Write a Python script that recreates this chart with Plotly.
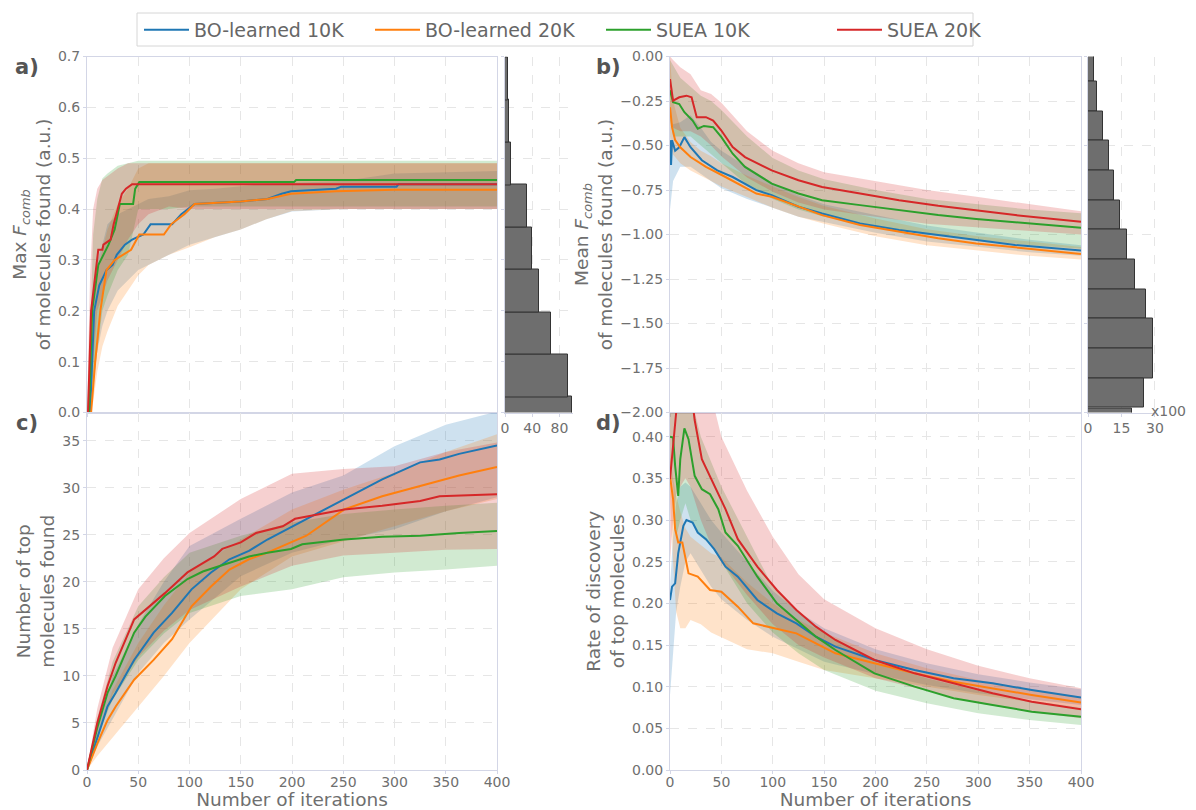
import plotly.graph_objects as go

# ---------------- data ----------------
series_names = ["BO-learned 10K", "BO-learned 20K", "SUEA 10K", "SUEA 20K"]
series_colors = ["#1f77b4", "#ff7f0e", "#2ca02c", "#d62728"]
series_fills = ["rgba(31,119,180,0.22)", "rgba(255,127,14,0.22)", "rgba(44,160,44,0.22)", "rgba(214,39,40,0.22)"]

# Panel a) Max F_comb
blue_a_x = [0, 3, 7, 12, 19, 25, 29, 37, 44, 55, 62, 83, 92, 105, 150, 176, 190, 199, 243, 248, 302, 304, 400]
blue_a_y = [0, 0, 0.20, 0.25, 0.28, 0.29, 0.31, 0.33, 0.34, 0.35, 0.37, 0.37, 0.39, 0.41, 0.415, 0.42, 0.43, 0.435, 0.44, 0.444, 0.444, 0.449, 0.449]
orange_a_x = [0, 4, 8, 13, 19, 27, 35, 43, 51, 75, 82, 95, 105, 150, 176, 199, 243, 300, 400]
orange_a_y = [0, 0, 0.1, 0.2, 0.28, 0.30, 0.31, 0.32, 0.35, 0.35, 0.37, 0.39, 0.41, 0.415, 0.42, 0.43, 0.435, 0.438, 0.438]
green_a_x = [0, 2, 5, 11, 16, 21, 27, 32, 45, 47, 51, 202, 204, 400]
green_a_y = [0, 0, 0.2, 0.29, 0.31, 0.33, 0.36, 0.41, 0.41, 0.44, 0.453, 0.453, 0.457, 0.457]
red_a_x = [0, 1, 4, 11, 15, 16, 23, 26, 30, 34, 38, 44, 400]
red_a_y = [0, 0, 0.2, 0.32, 0.32, 0.33, 0.34, 0.37, 0.40, 0.43, 0.44, 0.449, 0.449]

band_a_x = [0, 3, 6, 10, 15, 20, 30, 40, 50, 60, 80, 100, 125, 150, 175, 200, 250, 300, 400]
blue_a_up = [0, 0.10, 0.25, 0.30, 0.33, 0.37, 0.39, 0.40, 0.41, 0.42, 0.425, 0.437, 0.44, 0.445, 0.45, 0.452, 0.455, 0.47, 0.475]
blue_a_lo = [0, 0, 0.05, 0.12, 0.17, 0.20, 0.24, 0.26, 0.28, 0.29, 0.31, 0.33, 0.345, 0.36, 0.38, 0.395, 0.40, 0.40, 0.40]
orange_a_up = [0, 0.05, 0.18, 0.28, 0.32, 0.36, 0.41, 0.44, 0.48, 0.49, 0.49, 0.49, 0.49, 0.49, 0.49, 0.49, 0.49, 0.49, 0.49]
orange_a_lo = [0, 0, 0.02, 0.08, 0.13, 0.16, 0.21, 0.24, 0.27, 0.29, 0.31, 0.325, 0.345, 0.36, 0.38, 0.396, 0.40, 0.40, 0.40]
green_a_up = [0, 0.15, 0.35, 0.42, 0.46, 0.47, 0.485, 0.49, 0.495, 0.495, 0.495, 0.495, 0.495, 0.495, 0.495, 0.495, 0.495, 0.495, 0.495]
green_a_lo = [0, 0, 0.05, 0.12, 0.20, 0.23, 0.28, 0.31, 0.40, 0.40, 0.40, 0.405, 0.405, 0.405, 0.405, 0.405, 0.405, 0.405, 0.405]
red_a_up = [0, 0.27, 0.40, 0.44, 0.457, 0.465, 0.48, 0.49, 0.49, 0.49, 0.49, 0.49, 0.49, 0.49, 0.49, 0.49, 0.49, 0.49, 0.49]
red_a_lo = [0, 0, 0.10, 0.20, 0.23, 0.26, 0.30, 0.34, 0.37, 0.39, 0.405, 0.40, 0.40, 0.40, 0.40, 0.40, 0.40, 0.40, 0.40]

hist_a_centers = [-0.011, 0.072, 0.155, 0.239, 0.322, 0.406, 0.489, 0.573, 0.656]
hist_a_counts = [99, 93, 67, 50, 39, 33, 9.4, 5.6, 4.4]
hist_a_binwidth = 0.0835

# Panel b) Mean F_comb
blue_b_x = [0, 1, 2, 5, 9, 14, 20, 31, 46, 61, 84, 99, 125, 148, 185, 223, 261, 298, 336, 400]
blue_b_y = [-0.47, -0.61, -0.47, -0.53, -0.51, -0.453, -0.51, -0.583, -0.64, -0.677, -0.751, -0.779, -0.844, -0.882, -0.938, -0.975, -1.003, -1.031, -1.059, -1.09]
orange_b_x = [0, 2, 5, 10, 20, 35, 54, 73, 84, 99, 125, 148, 185, 223, 261, 298, 336, 400]
orange_b_y = [-0.285, -0.397, -0.47, -0.51, -0.565, -0.62, -0.677, -0.733, -0.77, -0.788, -0.844, -0.891, -0.947, -0.984, -1.021, -1.05, -1.072, -1.109]
green_b_x = [0, 3, 9, 14, 22, 27, 33, 42, 50, 61, 73, 99, 125, 148, 185, 223, 261, 298, 336, 400]
green_b_y = [-0.19, -0.257, -0.267, -0.313, -0.36, -0.406, -0.39, -0.397, -0.453, -0.546, -0.62, -0.714, -0.77, -0.807, -0.835, -0.863, -0.891, -0.913, -0.932, -0.962]
red_b_x = [0, 3, 9, 16, 21, 26, 35, 42, 50, 61, 73, 99, 125, 148, 185, 223, 261, 298, 336, 400]
red_b_y = [-0.127, -0.248, -0.229, -0.22, -0.229, -0.341, -0.341, -0.36, -0.416, -0.509, -0.565, -0.64, -0.695, -0.733, -0.77, -0.807, -0.839, -0.863, -0.891, -0.928]

band_b_x = [0, 3, 10, 20, 30, 40, 50, 75, 100, 125, 150, 200, 250, 300, 350, 400]
blue_b_up = [-0.35, -0.38, -0.37, -0.33, -0.40, -0.48, -0.53, -0.62, -0.71, -0.78, -0.83, -0.89, -0.95, -0.99, -1.03, -1.06]
blue_b_lo = [-0.86, -0.70, -0.62, -0.62, -0.66, -0.70, -0.74, -0.80, -0.85, -0.90, -0.93, -0.99, -1.04, -1.07, -1.10, -1.12]
orange_b_up = [0.0, -0.25, -0.40, -0.48, -0.53, -0.56, -0.60, -0.67, -0.73, -0.79, -0.84, -0.91, -0.97, -1.01, -1.04, -1.07]
orange_b_lo = [-0.45, -0.55, -0.60, -0.64, -0.67, -0.70, -0.73, -0.79, -0.85, -0.90, -0.94, -1.01, -1.06, -1.09, -1.12, -1.14]
green_b_up = [-0.02, -0.05, -0.12, -0.17, -0.22, -0.25, -0.30, -0.45, -0.57, -0.64, -0.69, -0.75, -0.80, -0.83, -0.86, -0.88]
green_b_lo = [-0.35, -0.45, -0.45, -0.45, -0.50, -0.55, -0.60, -0.72, -0.80, -0.86, -0.90, -0.95, -1.00, -1.03, -1.06, -1.08]
red_b_up = [0.0, -0.02, -0.06, -0.10, -0.19, -0.21, -0.26, -0.42, -0.53, -0.60, -0.65, -0.70, -0.75, -0.79, -0.83, -0.87]
red_b_lo = [-0.30, -0.40, -0.42, -0.42, -0.45, -0.50, -0.56, -0.68, -0.76, -0.82, -0.86, -0.90, -0.94, -0.96, -0.98, -1.00]

hist_b_centers = [-0.057, -0.224, -0.390, -0.557, -0.724, -0.890, -1.057, -1.224, -1.390, -1.557, -1.724, -1.890, -2.060]
hist_b_counts = [2.7, 4.0, 6.6, 9.4, 11.8, 14.2, 17.4, 21.1, 26.1, 29.3, 29.0, 25.0, 19.6]
hist_b_binwidth = 0.1668

# Panel c) Number of top molecules found
blue_c_x = [0, 10, 20, 28, 46, 65, 83, 102, 121, 139, 158, 176, 214, 251, 288, 325, 344, 363, 400]
blue_c_y = [0, 3.5, 6.75, 8.2, 11.7, 14.6, 16.7, 19.2, 21, 22.4, 23.3, 24.5, 26.7, 28.8, 30.9, 32.7, 33, 33.6, 34.5]
orange_c_x = [0, 10, 20, 28, 46, 65, 83, 102, 121, 139, 158, 176, 214, 251, 288, 325, 363, 400]
orange_c_y = [0, 2.8, 5.3, 6.75, 9.6, 11.7, 13.9, 17.4, 19.5, 21.3, 22.4, 23.1, 24.9, 27.7, 29.1, 30.2, 31.3, 32.2]
green_c_x = [0, 10, 20, 28, 46, 57, 76, 98, 113, 139, 158, 176, 199, 210, 251, 288, 325, 363, 400]
green_c_y = [0, 4.5, 8.2, 10, 14.6, 16.3, 18.5, 20.3, 21.1, 22, 22.7, 23.1, 23.5, 24, 24.5, 24.8, 24.9, 25.2, 25.4]
red_c_x = [0, 10, 20, 28, 46, 65, 76, 98, 124, 132, 150, 165, 191, 203, 251, 288, 325, 344, 400]
red_c_y = [0, 5, 8.9, 11.4, 16, 17.8, 18.8, 21, 22.7, 23.5, 24.2, 25.2, 25.9, 26.7, 27.7, 28.1, 28.6, 29.1, 29.3]

band_c_x = [0, 10, 25, 50, 75, 100, 150, 200, 250, 300, 350, 400]
blue_c_up = [0, 4.5, 10, 15.5, 20, 23.8, 26.7, 29.5, 31.3, 34.4, 36.7, 38.1]
blue_c_lo = [0, 2.5, 5.5, 10.3, 13.5, 16, 20.6, 23.1, 24.5, 25.6, 27.5, 29]
orange_c_up = [0, 3.8, 8.5, 13.5, 17.5, 21, 24.5, 27.7, 29.8, 31.6, 33.8, 35.7]
orange_c_lo = [0, 1.5, 3.5, 6.75, 10, 13.5, 19.2, 22.7, 24.3, 25.9, 27.5, 28.8]
green_c_up = [0, 5.5, 11.5, 17.4, 20.5, 23.1, 24.9, 26.3, 27.2, 27.7, 28.1, 28.4]
green_c_lo = [0, 3.5, 7.5, 11.7, 14.5, 16.7, 18.5, 19.2, 20.5, 21, 21.3, 21.7]
red_c_up = [0, 6.5, 13, 19.2, 22.5, 25.2, 28.8, 31.5, 32.0, 32.3, 33.8, 34.8]
red_c_lo = [0, 3.5, 8, 12, 14.8, 17, 19.5, 21.7, 22.8, 23.1, 23.4, 23.5]

# Panel d) Rate of discovery of top molecules
blue_d_x = [0, 2, 5, 8, 13, 16, 22, 27, 35, 43, 54, 66, 85, 104, 123, 142, 161, 199, 238, 276, 314, 352, 400]
blue_d_y = [0.204, 0.22, 0.224, 0.26, 0.293, 0.3, 0.297, 0.285, 0.277, 0.265, 0.244, 0.232, 0.204, 0.188, 0.176, 0.16, 0.148, 0.132, 0.12, 0.11, 0.104, 0.096, 0.087]
orange_d_x = [0, 3, 5, 8, 12, 18, 27, 39, 50, 66, 81, 96, 123, 142, 161, 199, 238, 276, 314, 352, 400]
orange_d_y = [0.353, 0.325, 0.289, 0.273, 0.273, 0.236, 0.232, 0.216, 0.214, 0.196, 0.176, 0.172, 0.164, 0.152, 0.14, 0.128, 0.116, 0.106, 0.098, 0.09, 0.081]
green_d_x = [0, 3, 5, 8, 10, 14, 18, 24, 31, 39, 47, 54, 66, 85, 104, 123, 142, 161, 199, 238, 276, 314, 352, 400]
green_d_y = [0.40, 0.399, 0.365, 0.329, 0.373, 0.41, 0.397, 0.353, 0.337, 0.331, 0.313, 0.285, 0.269, 0.232, 0.2, 0.18, 0.16, 0.144, 0.116, 0.1, 0.086, 0.078, 0.07, 0.064]
red_d_x = [0, 3, 6, 10, 15, 22, 24, 31, 43, 54, 66, 85, 104, 123, 142, 161, 199, 238, 276, 314, 352, 400]
red_d_y = [0.349, 0.385, 0.429, 0.46, 0.47, 0.44, 0.42, 0.373, 0.341, 0.313, 0.277, 0.244, 0.216, 0.192, 0.172, 0.156, 0.132, 0.116, 0.104, 0.092, 0.082, 0.073]

band_d_x = [0, 3, 6, 10, 15, 20, 30, 40, 50, 75, 100, 125, 150, 200, 250, 300, 350, 400]
blue_d_up = [0.22, 0.28, 0.32, 0.34, 0.345, 0.34, 0.32, 0.30, 0.285, 0.25, 0.215, 0.19, 0.17, 0.145, 0.128, 0.115, 0.105, 0.097]
blue_d_lo = [0.09, 0.14, 0.19, 0.22, 0.25, 0.26, 0.24, 0.22, 0.205, 0.18, 0.16, 0.145, 0.13, 0.115, 0.102, 0.092, 0.085, 0.078]
orange_d_up = [0.38, 0.35, 0.33, 0.31, 0.29, 0.28, 0.27, 0.26, 0.255, 0.225, 0.2, 0.18, 0.165, 0.14, 0.122, 0.108, 0.097, 0.088]
orange_d_lo = [0.33, 0.25, 0.19, 0.17, 0.17, 0.18, 0.175, 0.165, 0.16, 0.145, 0.14, 0.13, 0.12, 0.11, 0.10, 0.09, 0.082, 0.075]
green_d_up = [0.43, 0.43, 0.43, 0.44, 0.46, 0.45, 0.40, 0.37, 0.34, 0.28, 0.22, 0.19, 0.165, 0.13, 0.11, 0.095, 0.083, 0.075]
green_d_lo = [0.36, 0.34, 0.28, 0.30, 0.32, 0.30, 0.28, 0.27, 0.25, 0.20, 0.165, 0.14, 0.12, 0.095, 0.08, 0.068, 0.06, 0.054]
red_d_up = [0.43, 0.50, 0.55, 0.55, 0.55, 0.55, 0.50, 0.45, 0.40, 0.335, 0.28, 0.235, 0.205, 0.17, 0.145, 0.125, 0.11, 0.098]
red_d_lo = [0.25, 0.30, 0.33, 0.34, 0.35, 0.34, 0.30, 0.27, 0.25, 0.21, 0.175, 0.15, 0.135, 0.11, 0.095, 0.08, 0.07, 0.062]

# ---------------- figure ----------------
OFF = 8                      # default page margin around the figure
W, H = 1196 - OFF, 810 - OFF
FONT = "DejaVu Sans"
TICK_C = "#6f6f6f"
LINE_C = "#d3d6e6"
GRID_C = "#e6e6e6"


def fx(p):
    return (p - OFF) / W


def fy(p):
    return 1 - (p - OFF) / H


fig = go.Figure()

panels = {
    "a": dict(xa="x", ya="y",
              lines=[(blue_a_x, blue_a_y), (orange_a_x, orange_a_y), (green_a_x, green_a_y), (red_a_x, red_a_y)],
              bx=band_a_x,
              bands=[(blue_a_up, blue_a_lo), (orange_a_up, orange_a_lo), (green_a_up, green_a_lo), (red_a_up, red_a_lo)]),
    "b": dict(xa="x3", ya="y3",
              lines=[(blue_b_x, blue_b_y), (orange_b_x, orange_b_y), (green_b_x, green_b_y), (red_b_x, red_b_y)],
              bx=band_b_x,
              bands=[(blue_b_up, blue_b_lo), (orange_b_up, orange_b_lo), (green_b_up, green_b_lo), (red_b_up, red_b_lo)]),
    "c": dict(xa="x5", ya="y5",
              lines=[(blue_c_x, blue_c_y), (orange_c_x, orange_c_y), (green_c_x, green_c_y), (red_c_x, red_c_y)],
              bx=band_c_x,
              bands=[(blue_c_up, blue_c_lo), (orange_c_up, orange_c_lo), (green_c_up, green_c_lo), (red_c_up, red_c_lo)]),
    "d": dict(xa="x6", ya="y6",
              lines=[(blue_d_x, blue_d_y), (orange_d_x, orange_d_y), (green_d_x, green_d_y), (red_d_x, red_d_y)],
              bx=band_d_x,
              bands=[(blue_d_up, blue_d_lo), (orange_d_up, orange_d_lo), (green_d_up, green_d_lo), (red_d_up, red_d_lo)]),
}

for key, p in panels.items():
    for i, (up, lo) in enumerate(p["bands"]):
        fig.add_trace(go.Scatter(
            x=list(p["bx"]) + list(p["bx"])[::-1], y=list(up) + list(lo)[::-1],
            mode="lines", line=dict(width=0), fill="toself", fillcolor=series_fills[i],
            hoverinfo="skip", showlegend=False, xaxis=p["xa"], yaxis=p["ya"]))
for key, p in panels.items():
    for i, (xs, ys) in enumerate(p["lines"]):
        fig.add_trace(go.Scatter(
            x=xs, y=ys, mode="lines", line=dict(color=series_colors[i], width=2),
            name=series_names[i], legendgroup=series_names[i], showlegend=(key == "a"),
            xaxis=p["xa"], yaxis=p["ya"]))

fig.add_trace(go.Bar(y=hist_a_centers, x=hist_a_counts, width=hist_a_binwidth, orientation="h",
                     marker=dict(color="#6e6e6e", line=dict(color="#333333", width=1)),
                     showlegend=False, xaxis="x2", yaxis="y2"))
fig.add_trace(go.Bar(y=hist_b_centers, x=hist_b_counts, width=hist_b_binwidth, orientation="h",
                     marker=dict(color="#6e6e6e", line=dict(color="#333333", width=1)),
                     showlegend=False, xaxis="x4", yaxis="y4"))

left_x = [fx(87), fx(497)]
hist_a_x = [fx(505), fx(573)]
right_x = [fx(670), fx(1081)]
hist_b_x = [fx(1088), fx(1156)]
top_y = [fy(412.5), fy(56.5)]
bot_y = [fy(770), fy(412.5)]

tickfont = dict(family=FONT, size=14, color=TICK_C)
titlefont = dict(family=FONT, size=18.5, color=TICK_C)


def ax(**kw):
    base = dict(showline=True, linecolor=LINE_C, linewidth=1, mirror=True,
                ticks="outside", ticklen=3, tickcolor=LINE_C, tickfont=tickfont,
                showgrid=True, gridcolor=GRID_C, griddash="dash", gridwidth=1,
                zeroline=False, fixedrange=True, automargin=False)
    base.update(kw)
    return base


fig.update_layout(
    width=W, height=H, margin=dict(l=0, r=0, t=0, b=0, autoexpand=False),
    plot_bgcolor="white", paper_bgcolor="white",
    font=dict(family=FONT, color=TICK_C),
    bargap=0,
    xaxis=ax(domain=left_x, anchor="y", range=[0, 400], dtick=50, showticklabels=False),
    yaxis=ax(domain=top_y, anchor="x", range=[0, 0.7], dtick=0.1, tickformat=".1f",
             title=dict(text="Max <i>F</i><sub><i>comb</i></sub><br>of molecules found (a.u.)",
                        font=titlefont, standoff=2)),
    xaxis2=ax(domain=hist_a_x, anchor="y2", range=[0, 100], tickvals=[0, 40, 80], mirror=False),
    yaxis2=ax(domain=top_y, anchor="x2", matches="y", showticklabels=False, mirror=False),
    xaxis3=ax(domain=right_x, anchor="y3", range=[0, 400], dtick=50, showticklabels=False),
    yaxis3=ax(domain=top_y, anchor="x3", range=[-2, 0], dtick=0.25, tickformat=".2f",
              title=dict(text="Mean <i>F</i><sub><i>comb</i></sub><br>of molecules found (a.u.)",
                         font=titlefont, standoff=2)),
    xaxis4=ax(domain=hist_b_x, anchor="y4", range=[0, 30.5], tickvals=[0, 15, 30], mirror=False),
    yaxis4=ax(domain=top_y, anchor="x4", matches="y3", showticklabels=False, mirror=False),
    xaxis5=ax(domain=left_x, anchor="y5", range=[0, 400], dtick=50, ticklabelstandoff=-4,
              title=dict(text="Number of iterations", font=titlefont, standoff=6)),
    yaxis5=ax(domain=bot_y, anchor="x5", range=[0, 38], dtick=5,
              title=dict(text="Number of top<br>molecules found", font=titlefont, standoff=2)),
    xaxis6=ax(domain=right_x, anchor="y6", range=[0, 400], dtick=50, ticklabelstandoff=-4,
              title=dict(text="Number of iterations", font=titlefont, standoff=6)),
    yaxis6=ax(domain=bot_y, anchor="x6", range=[0, 0.429], dtick=0.05, tickformat=".2f",
              title=dict(text="Rate of discovery<br>of top molecules", font=titlefont, standoff=2)),
    legend=dict(orientation="h", x=fx(139), xanchor="left", y=fy(30), yanchor="middle",
                borderwidth=0, bgcolor="rgba(0,0,0,0)",
                itemwidth=45, entrywidth=171, entrywidthmode="pixels", tracegroupgap=0,
                font=dict(family=FONT, size=19, color="#666666")),
    shapes=[dict(type="rect", xref="paper", yref="paper", x0=fx(137), x1=fx(973), y0=fy(46), y1=fy(13),
                 line=dict(color="#d6d6d6", width=1), fillcolor="rgba(0,0,0,0)", layer="below")],
)

for lab, xp, yp in [("a)", 27, 67), ("b)", 608, 67), ("c)", 27, 423), ("d)", 608, 423)]:
    fig.add_annotation(text="<b>%s</b>" % lab, x=fx(xp), y=fy(yp), xref="paper", yref="paper",
                       showarrow=False, xanchor="center", yanchor="middle",
                       font=dict(family=FONT, size=21, color="#555555"))

fig.add_annotation(text="x100", x=fx(1168), y=fy(411), xref="paper", yref="paper",
                   showarrow=False, xanchor="center", yanchor="middle",
                   font=dict(family=FONT, size=14, color=TICK_C))

fig.write_html("out.html")
